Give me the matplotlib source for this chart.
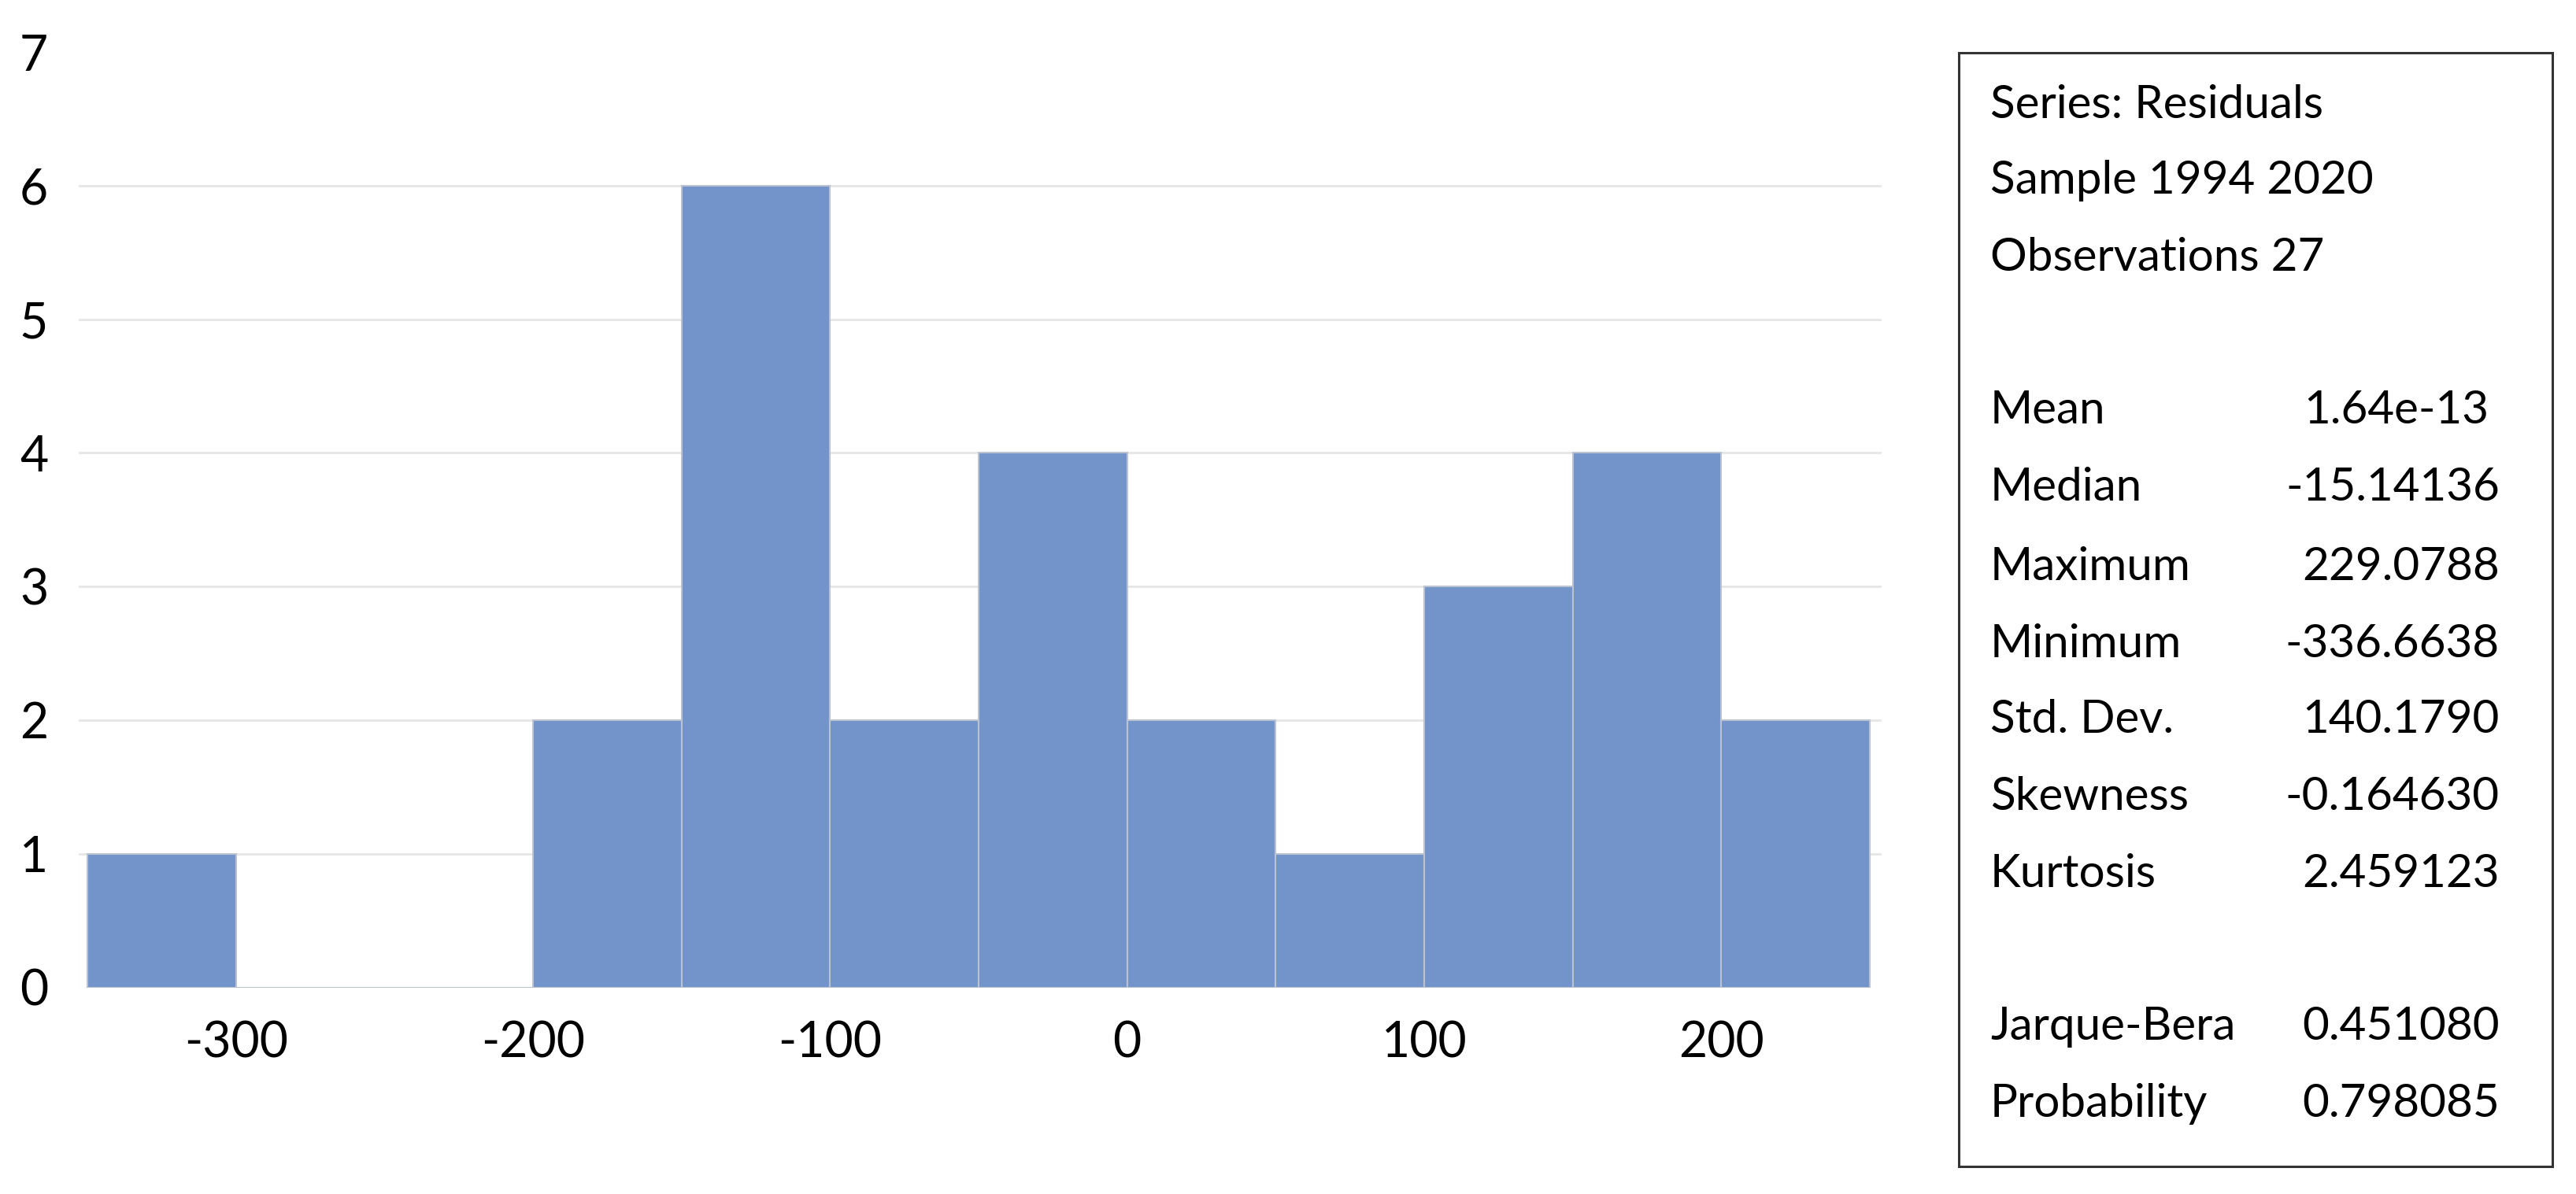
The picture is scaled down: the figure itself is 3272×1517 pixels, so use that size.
import matplotlib
matplotlib.use("Agg")
import matplotlib.pyplot as plt
from matplotlib.patches import Rectangle

# ---- data ----
bin_edges = [-350, -300, -250, -200, -150, -100, -50, 0, 50, 100, 150, 200, 250]
counts = [1, 0, 0, 2, 6, 2, 4, 2, 1, 3, 4, 2]
x_ticks = [-300, -200, -100, 0, 100, 200]
y_ticks = [0, 1, 2, 3, 4, 5, 6, 7]
header_lines = ["Series: Residuals", "Sample 1994 2020", "Observations 27"]
stat_names = ["Mean", "Median", "Maximum", "Minimum", "Std. Dev.", "Skewness", "Kurtosis"]
stat_values = ["1.64e-13", "-15.14136", "229.0788", "-336.6638", "140.1790", "-0.164630", "2.459123"]
test_names = ["Jarque-Bera", "Probability"]
test_values = ["0.451080", "0.798085"]

W, H = 3273, 1517
plt.rcParams['font.family'] = ['Lato', 'DejaVu Sans']
box_fs = 42

fig = plt.figure(figsize=(W / 100, H / 100), dpi=100)

ax = fig.add_axes([100 / W, 1 - 1254.5 / H, 2290 / W, (1254.5 - 66) / H])
widths = [bin_edges[i + 1] - bin_edges[i] for i in range(len(counts))]
ax.bar(bin_edges[:-1], counts, width=widths, align='edge', color='#7394CB',
       edgecolor='#BCC3D0', linewidth=1.5, zorder=3)
ax.set_xlim(-353, 254)
ax.set_ylim(0, 7)
ax.set_xticks(x_ticks)
ax.set_xticklabels([str(v) for v in x_ticks])
ax.set_yticks(y_ticks)
for y in y_ticks[1:-1]:
    ax.axhline(y, color='#E6E6E6', linewidth=2, zorder=1)
for s in ax.spines.values():
    s.set_visible(False)
ax.tick_params(axis='both', length=0, labelsize=45, colors='black')
ax.tick_params(axis='y', pad=28)
ax.tick_params(axis='x', pad=30)

# ---- statistics box ----
bx0, by0, bx1, by1 = 2488, 67, 3242, 1482
fig.patches.append(Rectangle((bx0 / W, 1 - by1 / H), (bx1 - bx0) / W, (by1 - by0) / H,
                             transform=fig.transFigure, fill=False,
                             edgecolor='#333333', linewidth=2.2))
sc = 2.0874
xl = 2528 / W
xr = 3175 / W
kw = dict(fontsize=box_fs, va='center')
head_y = [64, 110, 157]
for t, yy in zip(header_lines, head_y):
    fig.text(xl, 1 - yy * sc / H, t, ha='left', **kw)
stat_y = [250, 297, 345, 392, 438, 485, 532]
for i, (n, v, yy) in enumerate(zip(stat_names, stat_values, stat_y)):
    fig.text(xl, 1 - yy * sc / H, n, ha='left', **kw)
    off = 14 / W if i == 0 else 0
    fig.text(xr - off, 1 - yy * sc / H, v, ha='right', **kw)
test_y = [625, 672]
for n, v, yy in zip(test_names, test_values, test_y):
    fig.text(xl, 1 - yy * sc / H, n, ha='left', **kw)
    fig.text(xr, 1 - yy * sc / H, v, ha='right', **kw)

fig.savefig('out.png', dpi=100)
